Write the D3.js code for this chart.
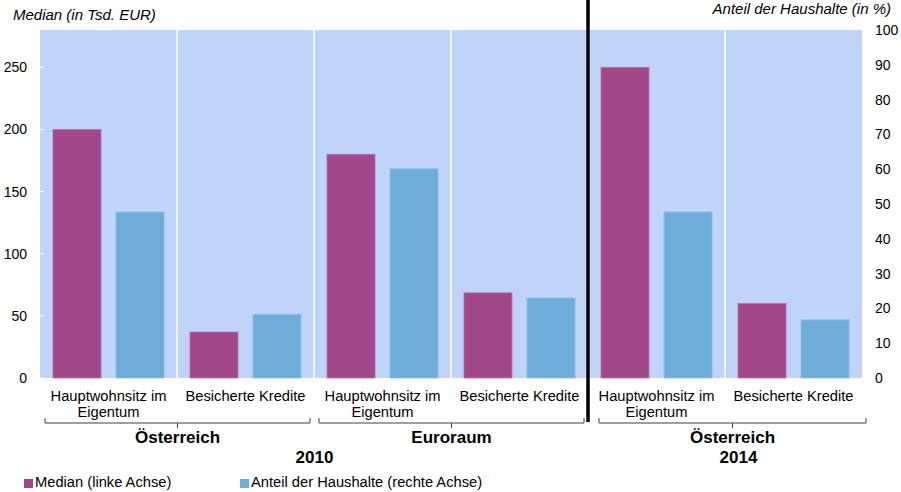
<!DOCTYPE html>
<html>
<head>
<meta charset="utf-8">
<script src="https://cdn.jsdelivr.net/npm/d3@7"></script>
<style>
  html, body { margin: 0; padding: 0; background: #fff; }
  svg { display: block; font-family: "Liberation Sans", Arial, sans-serif; }
</style>
</head>
<body>
<svg id="chart" width="901" height="492"></svg>
<script>
// Categories (one per bar pair), their two-line labels and group membership
const categoryIds = ["at10-hw", "at10-bk", "ea10-hw", "ea10-bk", "at14-hw", "at14-bk"];
const categoryLabels = [
  ["Hauptwohnsitz im", "Eigentum"], ["Besicherte Kredite"],
  ["Hauptwohnsitz im", "Eigentum"], ["Besicherte Kredite"],
  ["Hauptwohnsitz im", "Eigentum"], ["Besicherte Kredite"]
];
// Median value in thousand EUR (left axis)
const medianValues = [200, 37, 180, 68.5, 250, 60];
// Share of households in % (right axis)
const shareValues = [47.7, 18.3, 60.1, 23.0, 47.7, 16.7];

const regionLabels = ["Österreich", "Euroraum", "Österreich"];
const regionSpans = [[0, 1], [2, 3], [4, 5]];
const yearLabels = ["2010", "2014"];
const yearSpans = [[0, 3], [4, 5]];

const leftTicks = [0, 50, 100, 150, 200, 250];
const rightTicks = [0, 10, 20, 30, 40, 50, 60, 70, 80, 90, 100];
const seriesNames = ["Median (linke Achse)", "Anteil der Haushalte (rechte Achse)"];

const colors = { median: "#a2478a", share: "#6eacda", bg: "#c0d3f8" };

const svg = d3.select("#chart");
const plot = { left: 40, right: 862, top: 30, bottom: 378 };

const x = d3.scaleBand().domain(categoryIds).range([plot.left, plot.right]).padding(0);
const inner = d3.scaleBand().domain(["median", "share"]).range([0, x.bandwidth()])
  .paddingInner(0.238).paddingOuter(0.206);
const yLeft = d3.scaleLinear().domain([0, 280]).range([plot.bottom, plot.top]);
const yRight = d3.scaleLinear().domain([0, 100]).range([plot.bottom, plot.top]);

// Plot background
svg.append("rect")
  .attr("x", plot.left).attr("y", plot.top)
  .attr("width", plot.right - plot.left).attr("height", plot.bottom - plot.top)
  .attr("fill", colors.bg);

// White separators between categories
svg.append("g").selectAll("line")
  .data(categoryIds.slice(1))
  .join("line")
  .attr("x1", d => x(d)).attr("x2", d => x(d))
  .attr("y1", plot.top).attr("y2", plot.bottom)
  .attr("stroke", "#fff").attr("stroke-width", 1.5);

// Bars
const barData = categoryIds.flatMap((id, i) => [
  { id, key: "median", y: yLeft(medianValues[i]) },
  { id, key: "share", y: yRight(shareValues[i]) }
]);
svg.append("g").selectAll("rect")
  .data(barData)
  .join("rect")
  .attr("x", d => x(d.id) + inner(d.key))
  .attr("width", inner.bandwidth())
  .attr("y", d => d.y)
  .attr("height", d => plot.bottom - d.y)
  .attr("fill", d => colors[d.key])
  .attr("stroke", d => d.key === "median" ? "#b575a8" : "#8dbde3")
  .attr("stroke-width", 0.8);

// Left axis
const leftAxis = d3.axisLeft(yLeft).tickValues(leftTicks).tickSize(0).tickPadding(13);
const gl = svg.append("g").attr("transform", `translate(${plot.left},0)`).call(leftAxis);
gl.select(".domain").remove();
gl.selectAll("text").attr("font-size", 14).attr("fill", "#000")
  .attr("font-family", "Liberation Sans, Arial, sans-serif");
svg.append("g").selectAll("line").data(leftTicks).join("line")
  .attr("x1", plot.left).attr("x2", plot.left + 4)
  .attr("y1", d => yLeft(d)).attr("y2", d => yLeft(d))
  .attr("stroke", "#fff").attr("stroke-width", 1);

// Right axis
const rightAxis = d3.axisRight(yRight).tickValues(rightTicks).tickSize(0).tickPadding(13);
const gr = svg.append("g").attr("transform", `translate(${plot.right},0)`).call(rightAxis);
gr.select(".domain").remove();
gr.selectAll("text").attr("font-size", 14).attr("fill", "#000")
  .attr("font-family", "Liberation Sans, Arial, sans-serif");

// Axis titles
svg.append("text").attr("x", 13).attr("y", 20)
  .attr("font-size", 15).attr("font-style", "italic").text("Median (in Tsd. EUR)");
svg.append("text").attr("x", 891).attr("y", 14).attr("text-anchor", "end")
  .attr("font-size", 15).attr("font-style", "italic").text("Anteil der Haushalte (in %)");

// Category labels
const catLabel = svg.append("g").selectAll("text")
  .data(categoryIds)
  .join("text")
  .attr("x", d => x(d) + x.bandwidth() / 2)
  .attr("y", 401)
  .attr("text-anchor", "middle")
  .attr("font-size", 14.7);
catLabel.each(function (d, i) {
  d3.select(this).selectAll("tspan").data(categoryLabels[i]).join("tspan")
    .attr("x", x(d) + x.bandwidth() / 2)
    .attr("dy", (t, j) => j === 0 ? 0 : 16)
    .text(t => t);
});

// Divider between 2010 and 2014
const divX = x(categoryIds[yearSpans[1][0]]);

// Horizontal extent of a bracket spanning categories [a, b]
function spanExtent(span) {
  const start = x(categoryIds[span[0]]);
  const afterDivider = start === divX;
  const x0 = afterDivider ? start + 11 : start + 5;
  const x1 = afterDivider ? x(categoryIds[span[1]]) + x.bandwidth() + 4
                          : x(categoryIds[span[1]]) + x.bandwidth() - 4;
  return [x0, x1];
}

// Region brackets
const bracketY = 423;
regionSpans.forEach((span, i) => {
  const [x0, x1] = spanExtent(span);
  const cx = (x0 + x1) / 2;
  const g = svg.append("g").attr("stroke", "#404040").attr("stroke-width", 1).attr("fill", "none");
  g.append("path").attr("d", `M${x0},${bracketY - 5}V${bracketY}H${x1}V${bracketY - 5}`);
  g.append("line").attr("x1", cx).attr("x2", cx).attr("y1", bracketY).attr("y2", bracketY + 5);
  svg.append("text").attr("x", cx).attr("y", 443).attr("text-anchor", "middle")
    .attr("font-size", 17).attr("font-weight", "bold").text(regionLabels[i]);
});

// Year labels
yearSpans.forEach((span, i) => {
  const [x0, x1] = spanExtent(span);
  svg.append("text").attr("x", (x0 + x1) / 2 + (i === 1 ? 6 : 0)).attr("y", 463)
    .attr("text-anchor", "middle")
    .attr("font-size", 17).attr("font-weight", "bold").text(yearLabels[i]);
});

svg.append("line").attr("x1", divX).attr("x2", divX).attr("y1", 0).attr("y2", 422)
  .attr("stroke", "#000").attr("stroke-width", 3.5);

// Legend
const legend = svg.append("g").selectAll("g")
  .data(seriesNames)
  .join("g")
  .attr("transform", (d, i) => `translate(${i === 0 ? 24 : 240},0)`);
legend.append("rect").attr("x", 0).attr("y", 479).attr("width", 9).attr("height", 9)
  .attr("fill", (d, i) => i === 0 ? colors.median : colors.share);
legend.append("text").attr("x", 11).attr("y", 487).attr("font-size", 14.7).text(d => d);
</script>
</body>
</html>
